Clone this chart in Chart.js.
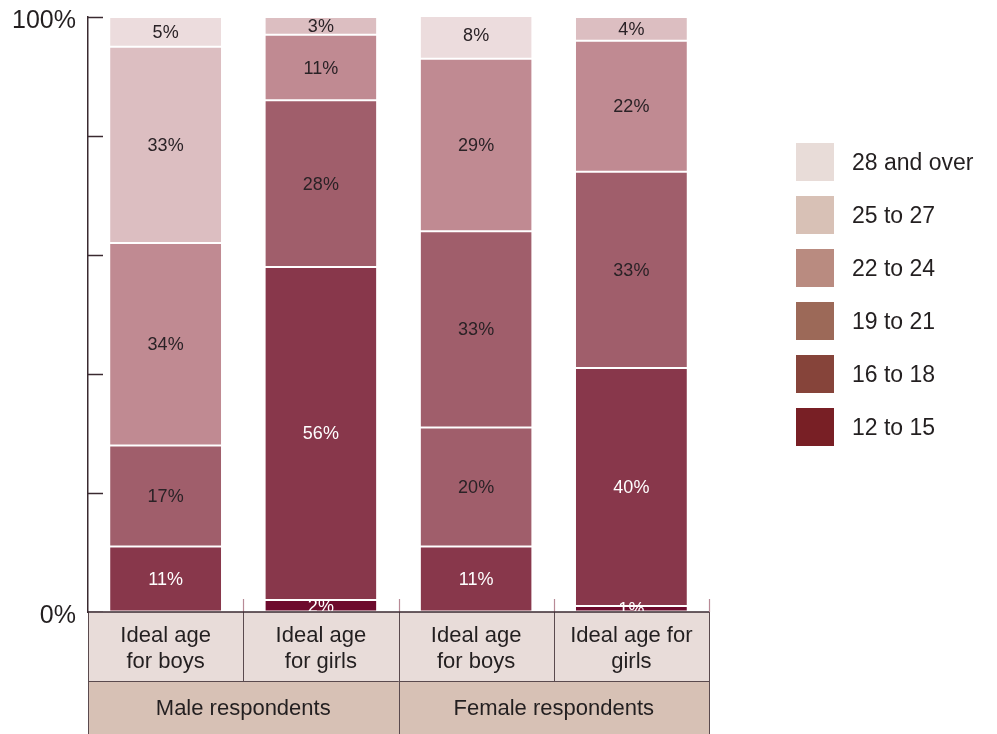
<!DOCTYPE html>
<html>
<head>
<meta charset="utf-8">
<script src="https://cdn.jsdelivr.net/npm/chart.js@4/dist/chart.umd.min.js"></script>
<style>
  html, body { margin: 0; padding: 0; background: #ffffff; }
  canvas { display: block; }
</style>
</head>
<body>
<canvas id="c" width="997" height="734"></canvas>
<script>
// ---- Data ----
const categories = ['Ideal age for boys', 'Ideal age for girls', 'Ideal age for boys', 'Ideal age for girls'];
const categoryLines = [['Ideal age', 'for boys'], ['Ideal age', 'for girls'], ['Ideal age', 'for boys'], ['Ideal age for', 'girls']];
const groups = ['Male respondents', 'Female respondents'];
const ageBands = ['12 to 15', '16 to 18', '19 to 21', '22 to 24', '25 to 27', '28 and over'];
const yTickLabels = { 0: '0%', 100: '100%' };

const v12to15 = [null, 2, null, 1];
const v16to18 = [11, 56, 11, 40];
const v19to21 = [17, 28, 20, 33];
const v22to24 = [34, 11, 33, 22];
const v25to27 = [33, 3, 29, 4];
const v28plus = [5, null, 8, null];
const seriesValues = [v12to15, v16to18, v19to21, v22to24, v25to27, v28plus];

// ---- Styles ----
const C1 = '#6d0b2d', C2 = '#88374b', C3 = '#a05e6b', C4 = '#c08a92', C5 = '#dcbec1', C6 = '#ecdcdd';
const barColors = [
  [C1, C1, C1, C1],
  [C2, C2, C2, C2],
  [C3, C3, C3, C3],
  [C4, C4, C3, C4],
  [C5, C5, C4, C5],
  [C6, C6, C6, C6]
];
const labelColors = ['#ffffff', '#ffffff', '#2a2226', '#2a2226', '#2a2226', '#2a2226'];
const legendColors = ['#781f25', '#86443a', '#9c6958', '#b98b80', '#d8c1b6', '#e8dcd8'];
const FONT = "'Liberation Sans', Arial, Helvetica, sans-serif";
const TEXT = '#231f20';

const datasets = ageBands.map((band, i) => ({
  label: band,
  data: seriesValues[i],
  backgroundColor: barColors[i],
  borderColor: '#ffffff',
  borderWidth: { top: 1, bottom: 1, left: 0, right: 0 },
  borderSkipped: false,
  categoryPercentage: 1.0,
  barPercentage: 0.715
}));

const overlay = {
  id: 'overlay',
  afterDatasetsDraw(chart) {
    const ctx = chart.ctx;
    ctx.save();
    ctx.font = '18px ' + FONT;
    ctx.textAlign = 'center';
    ctx.textBaseline = 'middle';
    chart.data.datasets.forEach((ds, di) => {
      const meta = chart.getDatasetMeta(di);
      meta.data.forEach((el, i) => {
        const v = ds.data[i];
        if (v === null || v === undefined) return;
        ctx.fillStyle = labelColors[di];
        ctx.fillText(v + '%', el.x, (el.y + el.base) / 2 + 1);
      });
    });
    ctx.restore();
  },
  afterDraw(chart) {
    const ctx = chart.ctx;
    const area = chart.chartArea;
    const xs = chart.scales.x;
    const ys = chart.scales.y;
    const n = categories.length;
    const catW = (area.right - area.left) / n;
    const L = area.left, R = area.right;
    const row1Top = area.bottom, row1Bot = 681, row2Bot = chart.height;
    ctx.save();

    // inward y ticks
    ctx.strokeStyle = '#3a2a30';
    ctx.lineWidth = 1.5;
    for (let v = 0; v <= 100; v += 20) {
      const y = Math.round(ys.getPixelForValue(v)) + 0.5;
      ctx.beginPath();
      ctx.moveTo(L, y);
      ctx.lineTo(L + 15, y);
      ctx.stroke();
    }

    // small pink ticks above table
    ctx.strokeStyle = '#b88a96';
    ctx.lineWidth = 1.2;
    for (let i = 1; i <= n; i++) {
      const x = Math.round(xs.getPixelForValue(i - 1) + catW / 2) + 0.5;
      ctx.beginPath();
      ctx.moveTo(x, row1Top - 13);
      ctx.lineTo(x, row1Top);
      ctx.stroke();
    }

    // table backgrounds
    ctx.fillStyle = '#e8dcd9';
    ctx.fillRect(L, row1Top, R - L, row1Bot - row1Top);
    ctx.fillStyle = '#d7c1b5';
    ctx.fillRect(L, row1Bot, R - L, row2Bot - row1Bot);

    // table lines
    ctx.strokeStyle = '#5a4a4e';
    ctx.lineWidth = 1;
    const hline = (y) => { ctx.beginPath(); ctx.moveTo(L, y); ctx.lineTo(R, y); ctx.stroke(); };
    const vline = (x, y0, y1) => { ctx.beginPath(); ctx.moveTo(x, y0); ctx.lineTo(x, y1); ctx.stroke(); };
    hline(row1Bot + 0.5);
    for (let i = 0; i <= n; i++) {
      const x = Math.round(L + i * catW) + 0.5;
      vline(x, row1Top, row1Bot);
    }
    vline(Math.round(L) + 0.5, row1Bot, row2Bot);
    vline(Math.round(L + 2 * catW) + 0.5, row1Bot, row2Bot);
    vline(Math.round(R) + 0.5, row1Bot, row2Bot);

    // x axis line
    ctx.strokeStyle = '#3a2a30';
    ctx.lineWidth = 1.5;
    ctx.beginPath();
    ctx.moveTo(L, area.bottom);
    ctx.lineTo(R, area.bottom);
    ctx.stroke();

    // category text
    ctx.fillStyle = TEXT;
    ctx.font = '22px ' + FONT;
    ctx.textAlign = 'center';
    ctx.textBaseline = 'middle';
    const mid1 = (row1Top + row1Bot) / 2;
    categoryLines.forEach((lines, i) => {
      const x = xs.getPixelForValue(i);
      ctx.fillText(lines[0], x, mid1 - 11);
      ctx.fillText(lines[1], x, mid1 + 15);
    });
    groups.forEach((g, gi) => {
      const x = L + catW * (gi * 2 + 1);
      ctx.fillText(g, x, (row1Bot + row2Bot) / 2 + 1);
    });

    // legend
    const lx = 796, ly0 = 143, step = 53, box = 38;
    ctx.font = '23px ' + FONT;
    ctx.textAlign = 'left';
    for (let k = 0; k < ageBands.length; k++) {
      const idx = ageBands.length - 1 - k;
      const y = ly0 + k * step;
      ctx.fillStyle = legendColors[idx];
      ctx.fillRect(lx, y, box, box);
      ctx.fillStyle = TEXT;
      ctx.fillText(ageBands[idx], 852, y + box / 2 + 2);
    }
    ctx.restore();
  }
};

new Chart(document.getElementById('c'), {
  type: 'bar',
  data: { labels: categories, datasets },
  options: {
    responsive: false,
    animation: false,
    layout: { padding: { top: 17, right: 288, bottom: 122, left: 0 } },
    plugins: { legend: { display: false }, tooltip: { enabled: false } },
    scales: {
      x: { stacked: true, display: false, offset: true },
      y: {
        stacked: true,
        min: 0,
        max: 100,
        afterFit(scale) { scale.width = 88; scale.paddingTop = 0; scale.paddingBottom = 0; },
        border: { display: true, color: '#3a2a30', width: 1.5 },
        grid: { drawOnChartArea: false, drawTicks: false },
        ticks: {
          stepSize: 20,
          padding: 12,
          labelOffset: 4,
          color: TEXT,
          font: { family: FONT, size: 25 },
          callback: (v) => (yTickLabels[v] !== undefined ? yTickLabels[v] : '')
        }
      }
    }
  },
  plugins: [overlay]
});
</script>
</body>
</html>
